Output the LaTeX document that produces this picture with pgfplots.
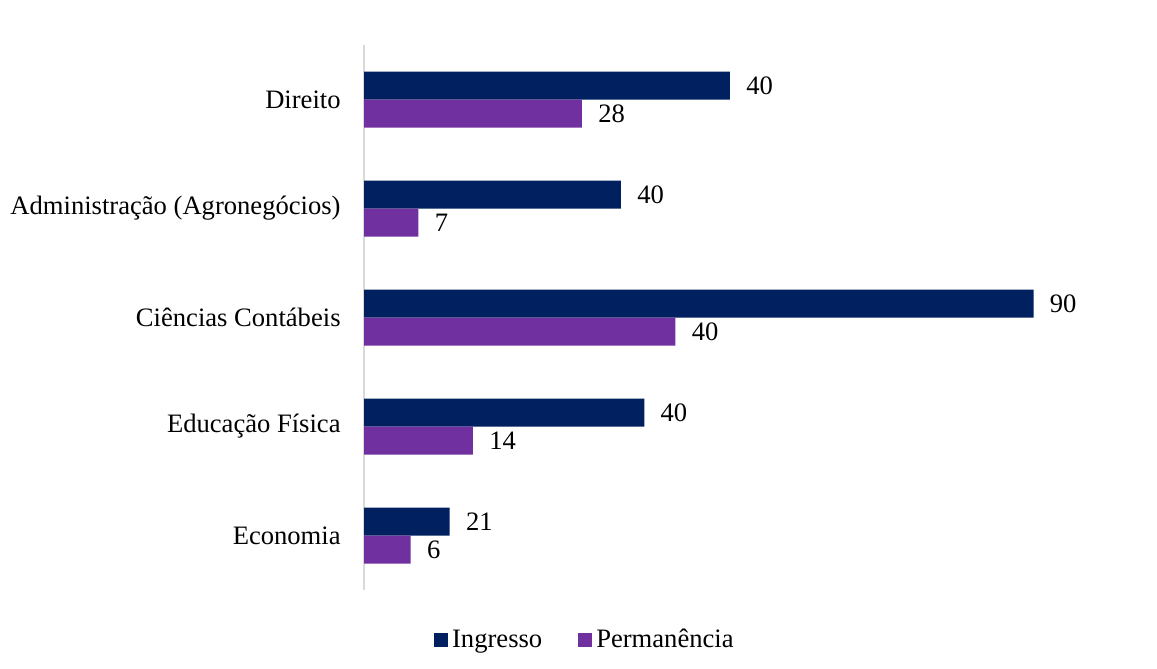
\documentclass[border=0pt]{standalone}
\usepackage{fontspec}
\setmainfont{Liberation Serif}
\usepackage{pgfplots}
\pgfplotsset{compat=1.18}
\definecolor{ingr}{RGB}{0,32,96}
\definecolor{perm}{RGB}{112,48,160}
\begin{document}
\begin{tikzpicture}
\path[use as bounding box] (0,0) rectangle (578.5pt,334.5pt);
\begin{axis}[
  at={(182pt,39.5pt)}, anchor=south west,
  scale only axis, width=389.25pt, height=272.5pt,
  xbar=0pt, bar width=14pt,
  xmin=0, xmax=100, ymin=-0.5, ymax=4.5, y dir=reverse,
  axis x line=none, axis y line=left,
  y axis line style={draw=black!15, line width=0.75pt, -},
  ytick={0,1,2,3,4},
  yticklabels={Direito, Administração (Agronegócios), Ciências Contábeis, Educação Física, Economia},
  major tick length=0pt,
  yticklabel style={inner sep=0pt, xshift=-11.5pt, font=\fontsize{13.3pt}{15pt}\selectfont},
  nodes near coords,
  point meta=explicit symbolic,
  nodes near coords style={anchor=west, inner sep=0pt, xshift=8pt, font=\fontsize{13.3pt}{15pt}\selectfont, text=black},
  clip=false,
  legend columns=2,
  legend style={at={(0.285,-0.092)}, anchor=center, draw=none, fill=none,
    font=\fontsize{13.3pt}{15pt}\selectfont,
    /tikz/every even column/.append style={column sep=16pt},
    inner sep=0pt, nodes={inner sep=2pt}},
  legend image code/.code={\fill[#1] (0pt,-3.5pt) rectangle (7pt,3.5pt);},
]
\addplot[fill=ingr, draw=none, bar shift=7pt] coordinates {
  (47,0) [40]
  (33,1) [40]
  (86,2) [90]
  (36,3) [40]
  (11,4) [21]
};
\addplot[fill=perm, draw=none, bar shift=-7pt] coordinates {
  (28,0) [28]
  (7,1) [7]
  (40,2) [40]
  (14,3) [14]
  (6,4) [6]
};
\legend{Ingresso, Permanência}
\end{axis}
\end{tikzpicture}
\end{document}
